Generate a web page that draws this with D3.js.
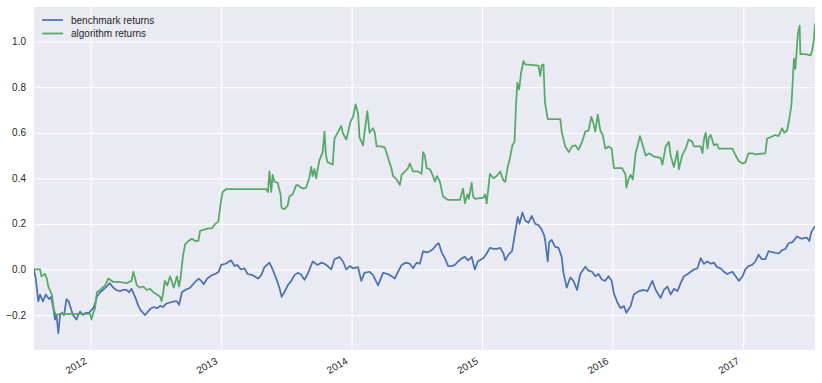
<!DOCTYPE html>
<html>
<head>
<meta charset="utf-8">
<script src="https://cdn.jsdelivr.net/npm/d3@7"></script>
<style>
  html, body { margin: 0; padding: 0; background: #ffffff; }
  svg { display: block; }
  text { font-family: "Liberation Sans", Arial, sans-serif; }
</style>
</head>
<body>
<svg id="chart" width="822" height="383"></svg>
<script>
// ---- data ----
const seriesNames = ["benchmark returns", "algorithm returns"];
const seriesColors = ["#4C72B0", "#55A868"];
const yTicks = [-0.2, 0.0, 0.2, 0.4, 0.6, 0.8, 1.0];
const xTickLabels = ["2012", "2013", "2014", "2015", "2016", "2017"];

const benchmark = [
["2011-07-27",0.0],["2011-08-01",-0.04],["2011-08-08",-0.14],["2011-08-13",-0.11],["2011-08-21",-0.14],["2011-08-29",-0.11],
["2011-09-07",-0.13],["2011-09-13",-0.12],["2011-09-19",-0.17],["2011-09-24",-0.22],["2011-09-28",-0.2],["2011-10-03",-0.28],
["2011-10-08",-0.2],["2011-10-13",-0.19],["2011-10-19",-0.2],["2011-10-26",-0.13],["2011-11-01",-0.14],["2011-11-05",-0.16],
["2011-11-13",-0.2],["2011-11-23",-0.22],["2011-11-28",-0.2],["2011-12-03",-0.185],["2011-12-11",-0.2],["2011-12-19",-0.19],
["2011-12-28",-0.19],["2012-01-03",-0.18],["2012-01-09",-0.17],["2012-01-14",-0.15],["2012-01-19",-0.12],["2012-01-28",-0.1],
["2012-02-05",-0.09],["2012-02-15",-0.075],["2012-02-24",-0.06],["2012-03-05",-0.08],["2012-03-13",-0.09],["2012-03-24",-0.095],
["2012-04-01",-0.09],["2012-04-11",-0.09],["2012-04-18",-0.1],["2012-04-25",-0.085],["2012-05-05",-0.12],["2012-05-14",-0.16],
["2012-05-21",-0.18],["2012-06-02",-0.2],["2012-06-10",-0.185],["2012-06-19",-0.17],["2012-06-27",-0.165],["2012-07-05",-0.17],
["2012-07-14",-0.16],["2012-07-22",-0.165],["2012-07-31",-0.15],["2012-08-11",-0.145],["2012-08-22",-0.14],["2012-08-30",-0.14],
["2012-09-05",-0.155],["2012-09-13",-0.1],["2012-09-22",-0.09],["2012-10-06",-0.08],["2012-10-20",-0.055],["2012-10-30",-0.04],
["2012-11-06",-0.05],["2012-11-13",-0.065],["2012-11-23",-0.04],["2012-12-06",-0.025],["2012-12-15",-0.02],["2012-12-25",-0.01],
["2013-01-01",0.02],["2013-01-13",0.025],["2013-01-29",0.04],["2013-02-07",0.015],["2013-02-15",0.02],["2013-02-25",0.0],
["2013-03-07",0.005],["2013-03-16",-0.02],["2013-03-30",-0.025],["2013-04-14",-0.04],["2013-04-23",-0.025],["2013-05-02",0.01],
["2013-05-16",0.03],["2013-05-25",0.0],["2013-06-04",-0.04],["2013-06-13",-0.08],["2013-06-19",-0.12],["2013-06-27",-0.1],
["2013-07-06",-0.07],["2013-07-16",-0.05],["2013-07-25",-0.025],["2013-08-03",-0.015],["2013-08-11",-0.02],["2013-08-22",-0.045],
["2013-08-31",-0.02],["2013-09-14",0.035],["2013-09-27",0.02],["2013-10-09",0.03],["2013-10-17",0.025],["2013-10-26",0.015],
["2013-11-05",0.0],["2013-11-14",0.045],["2013-11-28",0.055],["2013-12-08",0.035],["2013-12-17",0.0],["2013-12-27",0.015],
["2014-01-05",0.005],["2014-01-19",0.01],["2014-01-28",-0.05],["2014-02-06",-0.015],["2014-02-20",-0.01],["2014-03-02",-0.025],
["2014-03-16",-0.07],["2014-03-30",-0.015],["2014-04-12",-0.02],["2014-04-23",-0.03],["2014-05-02",-0.04],["2014-05-11",-0.01],
["2014-05-21",0.02],["2014-06-02",0.03],["2014-06-13",0.025],["2014-06-22",0.005],["2014-07-02",0.03],["2014-07-11",0.025],
["2014-07-20",0.08],["2014-07-31",0.075],["2014-08-08",0.08],["2014-08-17",0.09],["2014-08-27",0.11],["2014-09-02",0.115],
["2014-09-10",0.075],["2014-09-19",0.05],["2014-09-28",0.015],["2014-10-09",0.015],["2014-10-17",0.02],["2014-10-26",0.035],
["2014-11-06",0.05],["2014-11-14",0.055],["2014-11-23",0.04],["2014-12-03",0.055],["2014-12-12",0.0],["2014-12-20",0.035],
["2015-01-05",0.05],["2015-01-14",0.07],["2015-01-23",0.095],["2015-02-02",0.09],["2015-02-11",0.09],["2015-02-21",0.095],
["2015-03-02",0.07],["2015-03-07",0.04],["2015-03-16",0.065],["2015-03-26",0.08],["2015-04-04",0.165],["2015-04-11",0.23],
["2015-04-16",0.2],["2015-04-24",0.25],["2015-05-02",0.215],["2015-05-11",0.205],["2015-05-20",0.235],["2015-05-30",0.2],
["2015-06-08",0.195],["2015-06-17",0.175],["2015-06-24",0.15],["2015-06-27",0.125],["2015-07-04",0.035],["2015-07-08",0.12],
["2015-07-15",0.13],["2015-07-24",0.1],["2015-08-03",0.095],["2015-08-12",0.055],["2015-08-17",-0.015],["2015-08-26",-0.08],
["2015-09-05",-0.035],["2015-09-14",-0.05],["2015-09-24",-0.09],["2015-10-03",-0.02],["2015-10-17",0.012],["2015-10-26",-0.005],
["2015-11-05",-0.01],["2015-11-14",-0.03],["2015-11-23",-0.02],["2015-12-03",-0.045],["2015-12-12",-0.05],["2015-12-21",-0.03],
["2015-12-30",-0.05],["2016-01-05",-0.105],["2016-01-15",-0.145],["2016-01-24",-0.17],["2016-02-02",-0.16],["2016-02-09",-0.19],
["2016-02-21",-0.16],["2016-03-01",-0.11],["2016-03-15",-0.095],["2016-03-29",-0.09],["2016-04-08",-0.095],["2016-04-22",-0.05],
["2016-05-01",-0.09],["2016-05-15",-0.125],["2016-05-24",-0.09],["2016-06-03",-0.075],["2016-06-12",-0.11],["2016-06-21",-0.085],
["2016-07-01",-0.095],["2016-07-10",-0.06],["2016-07-19",-0.03],["2016-07-30",-0.02],["2016-08-07",-0.01],["2016-08-16",0.0],
["2016-08-26",0.005],["2016-09-04",0.05],["2016-09-13",0.025],["2016-09-23",0.035],["2016-10-02",0.025],["2016-10-11",0.03],
["2016-10-20",0.01],["2016-10-30",0.005],["2016-11-08",-0.01],["2016-11-17",-0.02],["2016-12-02",-0.01],["2016-12-11",-0.03],
["2016-12-20",-0.05],["2016-12-30",-0.03],["2017-01-07",0.0],["2017-01-16",0.015],["2017-01-26",0.02],["2017-02-04",0.035],
["2017-02-13",0.065],["2017-02-22",0.045],["2017-03-04",0.045],["2017-03-13",0.08],["2017-03-26",0.075],["2017-04-10",0.07],
["2017-04-20",0.085],["2017-04-29",0.09],["2017-05-08",0.115],["2017-05-19",0.12],["2017-06-01",0.145],["2017-06-13",0.135],
["2017-06-28",0.14],["2017-07-05",0.125],["2017-07-11",0.165],["2017-07-21",0.19]
];

const algorithm = [
["2011-07-27",0.0],["2011-08-13",0.0],["2011-08-17",-0.03],["2011-08-27",-0.02],["2011-09-01",-0.04],["2011-09-05",-0.075],
["2011-09-15",-0.11],["2011-09-21",-0.18],["2011-09-27",-0.2],["2011-10-08",-0.195],["2011-11-01",-0.195],["2011-12-01",-0.195],
["2011-12-31",-0.195],["2012-01-04",-0.22],["2012-01-09",-0.19],["2012-01-14",-0.17],["2012-01-19",-0.1],["2012-01-28",-0.09],
["2012-02-11",-0.07],["2012-02-20",-0.04],["2012-03-05",-0.055],["2012-03-24",-0.055],["2012-04-11",-0.06],["2012-04-25",-0.05],
["2012-04-30",-0.01],["2012-05-05",-0.04],["2012-05-10",-0.07],["2012-05-19",-0.08],["2012-05-28",-0.075],["2012-06-07",-0.09],
["2012-06-16",-0.085],["2012-06-25",-0.1],["2012-07-05",-0.11],["2012-07-14",-0.12],["2012-07-18",-0.14],["2012-07-23",-0.1],
["2012-07-27",-0.05],["2012-08-03",-0.07],["2012-08-11",-0.03],["2012-08-21",-0.08],["2012-08-30",-0.03],["2012-09-05",-0.075],
["2012-09-09",-0.04],["2012-09-16",0.06],["2012-09-22",0.11],["2012-10-01",0.125],["2012-10-11",0.135],["2012-10-20",0.125],
["2012-10-29",0.125],["2012-11-03",0.17],["2012-11-14",0.175],["2012-11-26",0.18],["2012-12-06",0.18],["2012-12-15",0.2],
["2012-12-24",0.21],["2012-12-28",0.26],["2013-01-01",0.305],["2013-01-05",0.34],["2013-01-15",0.353],["2013-05-07",0.353],
["2013-05-12",0.34],["2013-05-16",0.43],["2013-05-21",0.34],["2013-05-25",0.415],["2013-05-30",0.385],["2013-06-08",0.38],
["2013-06-16",0.33],["2013-06-19",0.27],["2013-06-27",0.265],["2013-07-06",0.28],["2013-07-11",0.32],["2013-07-20",0.33],
["2013-07-30",0.37],["2013-08-04",0.37],["2013-08-11",0.36],["2013-08-20",0.355],["2013-08-27",0.36],["2013-09-05",0.405],
["2013-09-10",0.45],["2013-09-14",0.41],["2013-09-19",0.44],["2013-09-24",0.4],["2013-09-28",0.44],["2013-10-03",0.48],
["2013-10-12",0.515],["2013-10-17",0.605],["2013-10-21",0.5],["2013-10-26",0.47],["2013-11-03",0.465],["2013-11-09",0.46],
["2013-11-14",0.575],["2013-11-23",0.6],["2013-12-03",0.63],["2013-12-07",0.6],["2013-12-17",0.57],["2013-12-21",0.595],
["2013-12-29",0.65],["2014-01-05",0.67],["2014-01-12",0.725],["2014-01-19",0.685],["2014-01-23",0.58],["2014-02-02",0.545],
["2014-02-06",0.6],["2014-02-14",0.695],["2014-02-20",0.6],["2014-03-02",0.62],["2014-03-07",0.6],["2014-03-12",0.54],
["2014-03-24",0.54],["2014-04-04",0.535],["2014-04-13",0.49],["2014-04-23",0.44],["2014-04-27",0.41],["2014-05-07",0.395],
["2014-05-16",0.37],["2014-05-21",0.415],["2014-05-30",0.43],["2014-06-08",0.445],["2014-06-13",0.465],["2014-06-22",0.43],
["2014-07-06",0.43],["2014-07-16",0.42],["2014-07-20",0.515],["2014-07-25",0.5],["2014-07-30",0.445],["2014-08-08",0.44],
["2014-08-17",0.41],["2014-08-22",0.385],["2014-08-28",0.41],["2014-09-05",0.385],["2014-09-14",0.32],["2014-09-28",0.305],
["2014-10-31",0.305],["2014-11-09",0.355],["2014-11-14",0.29],["2014-11-21",0.33],["2014-11-25",0.31],["2014-12-03",0.38],
["2014-12-07",0.32],["2014-12-12",0.31],["2015-01-05",0.315],["2015-01-10",0.33],["2015-01-14",0.29],["2015-01-19",0.36],
["2015-01-23",0.42],["2015-02-02",0.4],["2015-02-11",0.41],["2015-02-21",0.43],["2015-03-02",0.39],["2015-03-07",0.385],
["2015-03-14",0.45],["2015-03-21",0.495],["2015-03-27",0.545],["2015-04-02",0.56],["2015-04-06",0.72],["2015-04-10",0.82],
["2015-04-15",0.79],["2015-04-20",0.86],["2015-04-27",0.915],["2015-05-02",0.9],["2015-06-08",0.895],["2015-06-13",0.85],
["2015-06-17",0.895],["2015-06-22",0.9],["2015-06-26",0.735],["2015-07-04",0.66],["2015-08-08",0.66],["2015-08-12",0.605],
["2015-08-22",0.54],["2015-09-01",0.515],["2015-09-10",0.54],["2015-09-19",0.545],["2015-09-28",0.525],["2015-10-08",0.56],
["2015-10-17",0.605],["2015-10-26",0.61],["2015-11-03",0.67],["2015-11-09",0.64],["2015-11-14",0.605],["2015-11-21",0.68],
["2015-11-28",0.61],["2015-12-05",0.59],["2015-12-12",0.53],["2015-12-21",0.54],["2015-12-30",0.53],["2016-01-05",0.445],
["2016-01-28",0.445],["2016-02-07",0.415],["2016-02-09",0.36],["2016-02-16",0.4],["2016-02-21",0.415],["2016-02-27",0.395],
["2016-03-06",0.51],["2016-03-11",0.54],["2016-03-18",0.585],["2016-03-25",0.55],["2016-04-03",0.5],["2016-04-13",0.51],
["2016-04-27",0.495],["2016-05-15",0.49],["2016-05-20",0.46],["2016-05-29",0.54],["2016-06-07",0.56],["2016-06-12",0.5],
["2016-06-21",0.45],["2016-07-01",0.52],["2016-07-05",0.44],["2016-07-14",0.5],["2016-07-24",0.53],["2016-08-01",0.57],
["2016-08-12",0.56],["2016-08-16",0.54],["2016-09-04",0.54],["2016-09-09",0.51],["2016-09-13",0.57],["2016-09-18",0.6],
["2016-09-23",0.53],["2016-09-27",0.58],["2016-10-02",0.59],["2016-10-11",0.545],["2016-10-20",0.55],["2016-10-25",0.53],
["2016-12-02",0.53],["2016-12-11",0.5],["2016-12-20",0.475],["2016-12-30",0.465],["2017-01-07",0.47],["2017-01-16",0.51],
["2017-01-26",0.51],["2017-02-04",0.505],["2017-03-04",0.51],["2017-03-09",0.575],["2017-03-18",0.58],["2017-04-01",0.59],
["2017-04-10",0.585],["2017-04-20",0.62],["2017-04-26",0.6],["2017-05-04",0.61],["2017-05-10",0.66],["2017-05-16",0.72],
["2017-05-23",0.925],["2017-05-27",0.88],["2017-06-03",1.035],["2017-06-08",1.07],["2017-06-10",0.945],["2017-06-24",0.945],
["2017-07-09",0.94],["2017-07-13",0.96],["2017-07-18",1.01],["2017-07-21",1.08]
];

// ---- layout ----
const W = 822, H = 383;
const plot = { left: 34, right: 815, top: 7, bottom: 350 };
const parse = d3.timeParse("%Y-%m-%d");

const seriesList = [benchmark, algorithm].map(arr => arr.map(d => ({ date: parse(d[0]), value: d[1] })));
const allDates = seriesList.flat().map(d => d.date);

const x = d3.scaleTime().domain(d3.extent(allDates)).range([plot.left, plot.right]);
const y = d3.scaleLinear().domain([-0.3535, 1.152]).range([plot.bottom, plot.top]);

const svg = d3.select("#chart");

svg.append("rect")
  .attr("x", plot.left).attr("y", plot.top)
  .attr("width", plot.right - plot.left).attr("height", plot.bottom - plot.top)
  .attr("fill", "#EAEAF2");

svg.append("defs").append("clipPath").attr("id", "clip")
  .append("rect")
  .attr("x", plot.left).attr("y", plot.top)
  .attr("width", plot.right - plot.left).attr("height", plot.bottom - plot.top);

// grid via axes
const xTickDates = xTickLabels.map(s => parse(s + "-01-01"));
const xAxis = d3.axisBottom(x).tickValues(xTickDates)
  .tickSize(-(plot.bottom - plot.top)).tickFormat("");
const gx = svg.append("g").attr("transform", `translate(0,${plot.bottom})`).call(xAxis);
gx.select(".domain").remove();
gx.selectAll("line").attr("stroke", "#ffffff").attr("stroke-width", 1);

const yAxis = d3.axisLeft(y).tickValues(yTicks)
  .tickSize(-(plot.right - plot.left)).tickFormat("");
const gy = svg.append("g").attr("transform", `translate(${plot.left},0)`).call(yAxis);
gy.select(".domain").remove();
gy.selectAll("line").attr("stroke", "#ffffff").attr("stroke-width", 1);

// tick labels
const fmt = v => (v < 0 ? "\u2212" : "") + Math.abs(v).toFixed(1);
svg.append("g").selectAll("text").data(yTicks).join("text")
  .attr("x", plot.left - 8)
  .attr("y", d => y(d))
  .attr("dy", "0.35em")
  .attr("text-anchor", "end")
  .attr("font-size", 10)
  .attr("fill", "#262626")
  .text(fmt);

svg.append("g").selectAll("text").data(xTickDates).join("text")
  .attr("transform", d => `translate(${x(d) - 3},${plot.bottom + 13}) rotate(-30)`)
  .attr("text-anchor", "end")
  .attr("font-size", 10)
  .attr("fill", "#262626")
  .text((d, i) => xTickLabels[i]);

// lines
const line = d3.line().x(d => x(d.date)).y(d => y(d.value));
const gl = svg.append("g").attr("clip-path", "url(#clip)");
seriesList.forEach((s, i) => {
  gl.append("path").datum(s)
    .attr("d", line)
    .attr("fill", "none")
    .attr("stroke", seriesColors[i])
    .attr("stroke-width", 1.75)
    .attr("stroke-linejoin", "round");
});

// legend
const lg = svg.append("g");
seriesNames.forEach((name, i) => {
  const yy = 20 + i * 13.5;
  lg.append("line")
    .attr("x1", 42).attr("x2", 63).attr("y1", yy).attr("y2", yy)
    .attr("stroke", seriesColors[i]).attr("stroke-width", 1.75);
  lg.append("text")
    .attr("x", 71).attr("y", yy).attr("dy", "0.35em")
    .attr("font-size", 10).attr("fill", "#262626")
    .text(name);
});
</script>
</body>
</html>
